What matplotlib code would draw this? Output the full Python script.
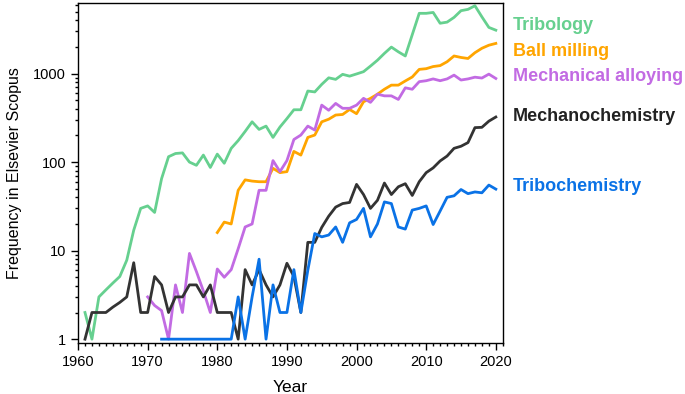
import numpy as np
import matplotlib
matplotlib.use('Agg')
from matplotlib import pyplot as plt
from matplotlib.ticker import LogLocator, FixedLocator, MultipleLocator, NullFormatter

plt.rcParams['font.family'] = ['Liberation Sans', 'DejaVu Sans']

# Data (publications per year)
years_tribology = list(range(1961, 2021))
tribology = [2, 1, 3, 3.6, 4.3, 5.1, 7.8, 17, 30, 32,
             27, 65, 115, 125, 127, 100, 92, 120, 87, 123,
             97, 143, 175, 222, 285, 234, 255, 190, 249, 310,
             390, 390, 635, 620, 755, 895, 860, 980, 935, 990,
             1050, 1215, 1415, 1690, 1990, 1760, 1580, 2750, 4790, 4790,
             4900, 3700, 3810, 4310, 5130, 5310, 5830, 4370, 3320, 3090]

years_ball = list(range(1980, 2021))
ball_milling = [16, 21, 20, 48, 63, 61, 60, 60, 85, 76,
                78, 132, 120, 190, 202, 285, 305, 340, 345, 393,
                352, 480, 525, 585, 665, 740, 740, 825, 915, 1115,
                1135, 1200, 1230, 1360, 1580, 1520, 1480, 1720, 1930, 2090, 2190]

years_alloy = list(range(1970, 2021))
mech_alloying = [3, 2.4, 2.1, 1, 4.1, 2, 9.3, 5.8, 3.5, 2,
                 6.2, 5.0, 6.1, 10.5, 18.5, 20, 48, 48, 104, 78,
                 104, 180, 202, 255, 230, 440, 385, 460, 405, 405,
                 440, 525, 473, 585, 560, 560, 510, 690, 665, 810,
                 830, 870, 830, 870, 960, 845, 870, 910, 890, 985, 880]

years_mechano = list(range(1961, 2021))
mechanochemistry = [1, 2, 2, 2, 2.3, 2.6, 3, 7.3, 2, 2,
                    5.1, 4.1, 2, 3, 3, 4.1, 4.1, 3, 4.1, 2,
                    2, 2, 1, 6.1, 4.1, 6.1, 4.1, 3, 4.1, 7.2,
                    5.1, 2, 12.4, 12.4, 18.3, 24.5, 31, 34, 35, 56,
                    43, 30, 37, 58, 43, 52.6, 57, 42, 60, 76,
                    86, 103, 117, 143, 151, 166, 245, 247, 290, 323]

years_tribochem = list(range(1972, 2021))
tribochemistry = [1, 1, 1, 1, 1, 1, 1, 1, 1, 1,
                  1, 3, 1, 3, 8, 1, 4.1, 2, 2, 6.1,
                  2, 6, 15.6, 14.3, 15, 18.5, 12.4, 20.6, 22.5, 30,
                  14.3, 20, 35.5, 34, 18.5, 17.5, 28.7, 30, 32, 19.7,
                  28, 40, 41.6, 49, 44, 46, 45, 55, 49.5]

names = ['Tribology', 'Ball milling', 'Mechanical alloying', 'Mechanochemistry', 'Tribochemistry']
colors = ['#66d08f', '#ffa500', '#c26be3', '#222222', '#0a72e6']
label_y = [25.7, 51.7, 76.7, 116.7, 186.7]   # pixel rows of the right-hand labels

fig = plt.figure(figsize=(6.85, 3.94), dpi=100)
ax = fig.add_axes([0.1139, 0.130, 0.6201, 0.8623])

series = [(years_tribology, tribology), (years_ball, ball_milling),
          (years_alloy, mech_alloying), (years_mechano, mechanochemistry),
          (years_tribochem, tribochemistry)]
line_colors = ['#66d08f', '#ffa500', '#c26be3', '#333333', '#0a72e6']
for (x, y), c in zip(series, line_colors):
    ax.plot(x, y, color=c, linewidth=2)

ax.set_yscale('log')
ax.set_xlim(1960, 2021)
ax.set_ylim(0.91, 6260)

ax.xaxis.set_major_locator(MultipleLocator(10))
ax.xaxis.set_minor_locator(MultipleLocator(1))
ax.yaxis.set_major_locator(FixedLocator([1, 10, 100, 1000]))
ax.yaxis.set_major_formatter(matplotlib.ticker.FixedFormatter(['1', '10', '100', '1000']))
ax.yaxis.set_minor_locator(LogLocator(base=10, subs=np.arange(2, 10)))
ax.yaxis.set_minor_formatter(NullFormatter())

ax.tick_params(which='major', length=5, width=1, labelsize=10.5, color='black')
ax.tick_params(which='minor', length=2.5, width=1)
for s in ax.spines.values():
    s.set_linewidth(1)

ax.set_xlabel('Year', fontsize=12.5, labelpad=8)
ax.set_ylabel('Frequency in Elsevier Scopus', fontsize=11.5, labelpad=8)

for name, c, py in zip(names, colors, label_y):
    fig.text(513 / 685, 1 - py / 394, name, color=c, fontsize=13, fontweight='bold',
             va='center', ha='left')

plt.savefig('out.png', dpi=100)
